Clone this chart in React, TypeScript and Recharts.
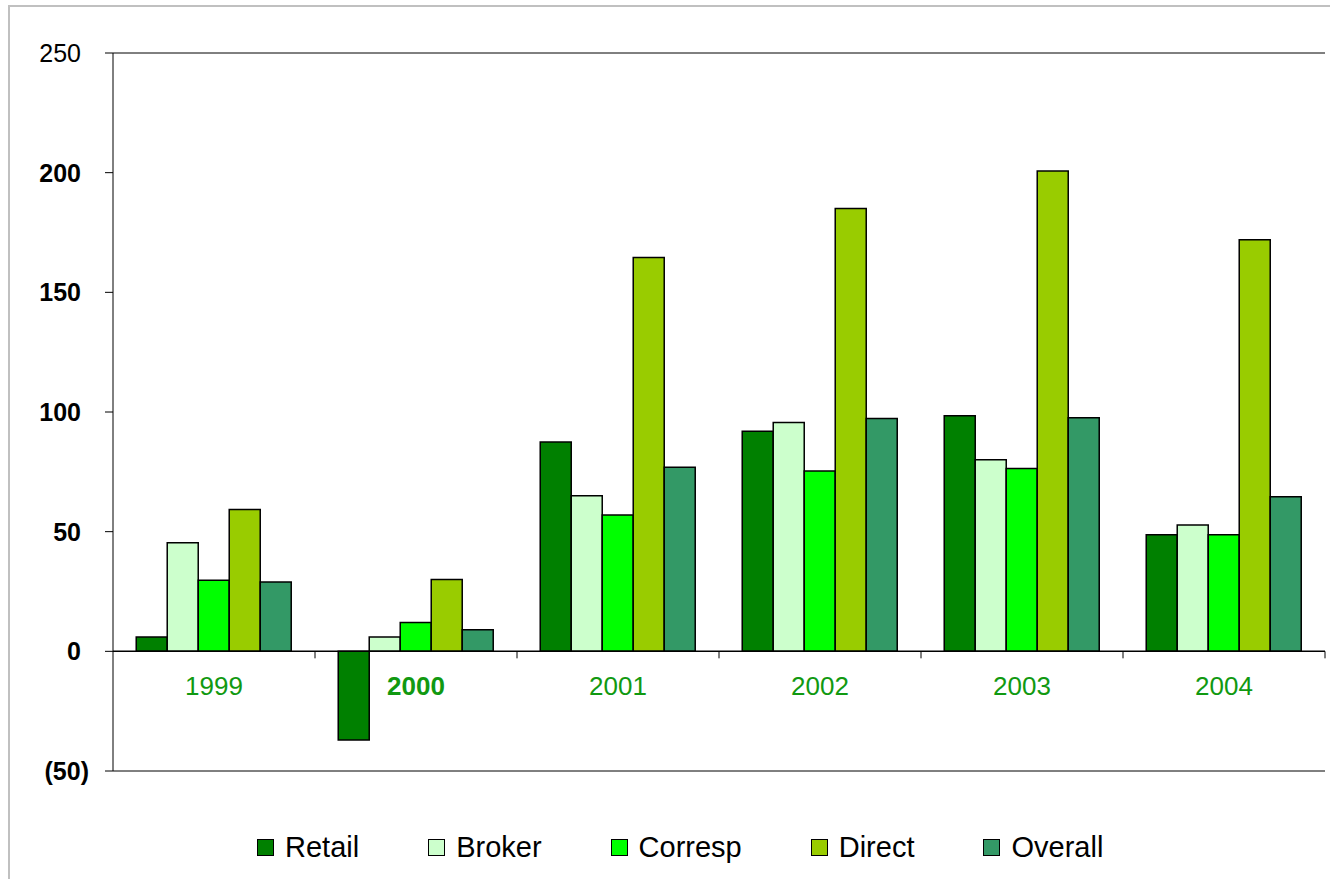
import React from 'react';
import {
  BarChart,
  Bar,
  XAxis,
  YAxis,
  CartesianGrid,
  ReferenceLine,
  Legend,
} from 'recharts';

const years = ['1999', '2000', '2001', '2002', '2003', '2004'];
const retail = [6, -37, 87.5, 92, 98.4, 48.7];
const broker = [45.4, 6, 65, 95.6, 80, 52.8];
const corresp = [29.7, 12, 57, 75.3, 76.4, 48.7];
const direct = [59.3, 30, 164.6, 185, 200.7, 172];
const overall = [29, 9, 76.9, 97.3, 97.6, 64.6];
const yTicks = [-50, 0, 50, 100, 150, 200, 250];

const series = [
  { key: 'Retail', color: '#008000' },
  { key: 'Broker', color: '#CCFFCC' },
  { key: 'Corresp', color: '#00FF00' },
  { key: 'Direct', color: '#99CC00' },
  { key: 'Overall', color: '#339966' },
];

const data = years.map((year, i) => ({
  year,
  Retail: retail[i],
  Broker: broker[i],
  Corresp: corresp[i],
  Direct: direct[i],
  Overall: overall[i],
}));

const W = 1330;
const H = 879;
const margin = { top: 53, right: 5, left: 0, bottom: 98 };
const xAxisH = 10;
const yMin = -50;
const yMax = 250;
const plotH = H - margin.top - margin.bottom - xAxisH;
const plotW = W - margin.right - margin.left - 113;
const zeroY = margin.top + (plotH * (yMax - 0)) / (yMax - yMin);
const band = plotW / years.length;
const font = '"Liberation Sans", Arial, sans-serif';

const YTick = (props: any) => {
  const { x, y, payload } = props;
  const v = payload.value;
  const label = v < 0 ? `(${Math.abs(v)})` : `${v}`;
  return (
    <text
      x={v < 0 ? x + 8 : x}
      y={y}
      dy={9}
      textAnchor="end"
      fontSize={25}
      fontFamily={font}
      fontWeight={v === 250 ? 'normal' : 'bold'}
      fill="#000"
    >
      {label}
    </text>
  );
};

const XTick = (props: any) => {
  const { x, payload } = props;
  const bold = payload.value === '2000';
  return (
    <g>
      <line x1={x + band / 2} x2={x + band / 2} y1={zeroY} y2={zeroY + 7} stroke="#000" strokeWidth={1} />
      <text
        x={x}
        y={zeroY + 44}
        textAnchor="middle"
        fontSize={26}
        fontFamily={font}
        fontWeight={bold ? 'bold' : 'normal'}
        fill="#119911"
      >
        {payload.value}
      </text>
    </g>
  );
};

const LegendContent = () => (
  <div style={{ display: 'flex', alignItems: 'center', fontFamily: font, fontSize: 29, color: '#000' }}>
    {series.map((s, i) => (
      <div key={s.key} style={{ display: 'flex', alignItems: 'center', marginLeft: i === 0 ? 0 : 69 }}>
        <span
          style={{
            display: 'inline-block',
            width: 15,
            height: 15,
            background: s.color,
            border: '1.5px solid #000',
            marginRight: 11,
          }}
        />
        <span>{s.key}</span>
      </div>
    ))}
  </div>
);

export default function App() {
  return (
    <div style={{ position: 'absolute', left: 0, top: 0, width: W, height: H, background: '#fff' }}>
      <div
        style={{
          position: 'absolute',
          left: 8,
          top: 5,
          width: W,
          height: H,
          borderTop: '2px solid #c0c0c0',
          borderLeft: '2px solid #c0c0c0',
        }}
      />
      <BarChart
        width={W}
        height={H}
        data={data}
        margin={margin}
        barCategoryGap="11.5%"
        barGap={0}
        style={{ position: 'absolute', left: 0, top: 0 }}
      >
        <CartesianGrid vertical={false} stroke="#000" strokeWidth={1} />
        <XAxis
          dataKey="year"
          height={xAxisH}
          axisLine={false}
          tickLine={false}
          tick={(p: any) => <XTick {...p} />}
          interval={0}
        />
        <YAxis
          yAxisId="left"
          domain={[yMin, yMax]}
          ticks={yTicks}
          interval={0}
          width={113}
          tickSize={8}
          tickMargin={24}
          axisLine={{ stroke: '#000' }}
          tickLine={{ stroke: '#000' }}
          tick={(p: any) => <YTick {...p} />}
        />
        <YAxis
          yAxisId="right"
          orientation="right"
          domain={[yMin, yMax]}
          width={0}
          tick={false}
          tickLine={false}
          axisLine={{ stroke: '#000' }}
        />
        <ReferenceLine yAxisId="left" y={0} stroke="#000" strokeWidth={1.5} />
        {series.map((s) => (
          <Bar
            key={s.key}
            yAxisId="left"
            dataKey={s.key}
            fill={s.color}
            stroke="#000"
            strokeWidth={1.5}
            isAnimationActive={false}
          />
        ))}
        <Legend
          verticalAlign="middle"
          align="center"
          content={<LegendContent />}
          wrapperStyle={{ position: 'absolute', top: 831, left: 257, width: 'auto' }}
        />
      </BarChart>
    </div>
  );
}
